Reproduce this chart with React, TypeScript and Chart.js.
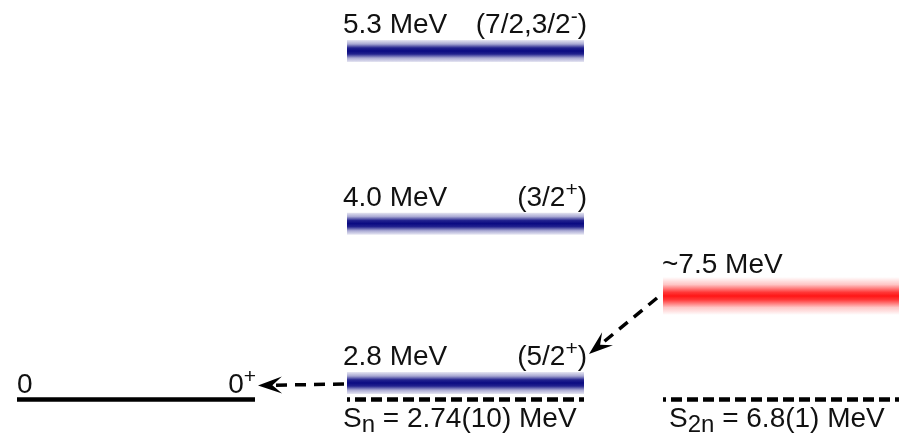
import React, { useEffect, useRef } from "react";
import { Chart, registerables } from "chart.js";

Chart.register(...registerables);

// Excited states of the nucleus (MeV) with their spin and parity
const levelEnergies = [5.3, 4.0, 2.8];
const levelSpins = ["7/2,3/2", "3/2", "5/2"];
const levelParities = ["-", "+", "+"];

// Ground state of the daughter
const groundEnergy = 0;
const groundSpin = "0";
const groundParity = "+";

// Broad two-neutron resonance (MeV)
const resonanceEnergy = 7.5;

// Separation energies
const snText = "2.74(10)";
const s2nText = "6.8(1)";

// ---- drawing layout -------------------------------------------------------
const W = 899;
const H = 436;
const FONT = '"Liberation Sans", Arial, Helvetica, sans-serif';
const TEXT = "#111111";
// Vertical axis is in MeV for the middle column; the bottom row is a broken-axis row
const Y_MIN = 2.401;
const Y_MAX = 5.684;
const BASE_ROW = 2.676; // ground state and thresholds
const RESONANCE_ROW = 3.455;
const GROUND_COL = [17, 255];
const LEVEL_COL = [347, 584];
const RES_COL = [663, 910];

type Seg = { t: string; k?: "sup" | "sub" };

function segFont(k?: string) {
  if (k === "sup") return `21px ${FONT}`;
  if (k === "sub") return `24px ${FONT}`;
  return `28px ${FONT}`;
}

function drawRich(ctx: CanvasRenderingContext2D, x: number, y: number, segs: Seg[], align: "left" | "right") {
  ctx.save();
  ctx.textAlign = "left";
  ctx.textBaseline = "alphabetic";
  ctx.fillStyle = TEXT;
  let total = 0;
  for (const s of segs) {
    ctx.font = segFont(s.k);
    total += ctx.measureText(s.t).width;
  }
  let cx = align === "right" ? x - total : x;
  for (const s of segs) {
    ctx.font = segFont(s.k);
    const dy = s.k === "sup" ? -10 : s.k === "sub" ? 5 : 0;
    ctx.fillText(s.t, cx, y + dy);
    cx += ctx.measureText(s.t).width;
  }
  ctx.restore();
}

function drawArrow(ctx: CanvasRenderingContext2D, x0: number, y0: number, x1: number, y1: number) {
  const dx = x1 - x0;
  const dy = y1 - y0;
  const len = Math.hypot(dx, dy);
  const ux = dx / len;
  const uy = dy / len;
  const nx = -uy;
  const ny = ux;
  const headL = 24;
  const headW = 8.5;
  ctx.save();
  ctx.strokeStyle = "#000";
  ctx.lineWidth = 3.5;
  ctx.setLineDash([11, 8]);
  ctx.beginPath();
  ctx.moveTo(x0, y0);
  ctx.lineTo(x1 - ux * 14, y1 - uy * 14);
  ctx.stroke();
  ctx.setLineDash([]);
  ctx.fillStyle = "#000";
  ctx.beginPath();
  ctx.moveTo(x1, y1);
  ctx.lineTo(x1 - ux * headL + nx * headW, y1 - uy * headL + ny * headW);
  ctx.lineTo(x1 - ux * headL * 0.6, y1 - uy * headL * 0.6);
  ctx.lineTo(x1 - ux * headL - nx * headW, y1 - uy * headL - ny * headW);
  ctx.closePath();
  ctx.fill();
  ctx.restore();
}

function bandGradient(chart: any, value: number, half: number, rgb: string, soft: boolean) {
  const y = chart.scales?.y;
  if (!y || !chart.chartArea) return `rgb(${rgb})`;
  const p = y.getPixelForValue(value);
  const g = chart.ctx.createLinearGradient(0, p - half, 0, p + half);
  if (soft) {
    g.addColorStop(0, `rgba(${rgb},0)`);
    g.addColorStop(0.2, `rgba(${rgb},0.25)`);
    g.addColorStop(0.4, `rgba(${rgb},0.85)`);
    g.addColorStop(0.5, `rgba(${rgb},1)`);
    g.addColorStop(0.6, `rgba(${rgb},0.85)`);
    g.addColorStop(0.8, `rgba(${rgb},0.25)`);
    g.addColorStop(1, `rgba(${rgb},0)`);
  } else {
    g.addColorStop(0, `rgba(${rgb},0.1)`);
    g.addColorStop(0.18, `rgba(${rgb},0.35)`);
    g.addColorStop(0.36, `rgba(${rgb},0.9)`);
    g.addColorStop(0.5, `rgba(${rgb},1)`);
    g.addColorStop(0.64, `rgba(${rgb},0.9)`);
    g.addColorStop(0.82, `rgba(${rgb},0.35)`);
    g.addColorStop(1, `rgba(${rgb},0.1)`);
  }
  return g;
}

const labelsPlugin = {
  id: "levelLabels",
  afterDatasetsDraw(chart: any) {
    const { ctx } = chart;
    const xs = chart.scales.x;
    const ys = chart.scales.y;
    const lx0 = xs.getPixelForValue(LEVEL_COL[0]);
    const lx1 = xs.getPixelForValue(LEVEL_COL[1]);

    levelEnergies.forEach((e, i) => {
      const py = ys.getPixelForValue(e);
      drawRich(ctx, lx0 - 4, py - 18, [{ t: `${e.toFixed(1)} MeV` }], "left");
      drawRich(
        ctx,
        lx1 + 3,
        py - 18,
        [{ t: `(${levelSpins[i]}` }, { t: levelParities[i], k: "sup" }, { t: ")" }],
        "right"
      );
    });

    const base = ys.getPixelForValue(BASE_ROW);
    const gx0 = xs.getPixelForValue(GROUND_COL[0]);
    const gx1 = xs.getPixelForValue(GROUND_COL[1]);
    drawRich(ctx, gx0, base - 6, [{ t: `${groundEnergy}` }], "left");
    drawRich(ctx, gx1 + 1, base - 6, [{ t: groundSpin }, { t: groundParity, k: "sup" }], "right");

    const rx0 = xs.getPixelForValue(RES_COL[0]);
    const ry = ys.getPixelForValue(RESONANCE_ROW);
    drawRich(ctx, rx0 - 1, ry - 23, [{ t: `~${resonanceEnergy.toFixed(1)} MeV` }], "left");

    drawRich(ctx, lx0 - 4, base + 28, [{ t: "S" }, { t: "n", k: "sub" }, { t: ` = ${snText} MeV` }], "left");
    drawRich(ctx, rx0 + 6, base + 28, [{ t: "S" }, { t: "2n", k: "sub" }, { t: ` = ${s2nText} MeV` }], "left");

    // decay arrows: resonance -> 5/2+ state -> ground state
    const lowest = ys.getPixelForValue(levelEnergies[levelEnergies.length - 1]);
    drawArrow(ctx, rx0 - 6, ry + 2, lx1 + 5, lowest - 29);
    drawArrow(ctx, lx0 - 3, lowest + 1, gx1 + 3, base - 14);
  },
};

export default function App() {
  const ref = useRef<HTMLCanvasElement | null>(null);

  useEffect(() => {
    document.body.style.margin = "0";
    const canvas = ref.current;
    if (!canvas) return;

    const levelSets = levelEnergies.map((e) => ({
      data: [
        { x: LEVEL_COL[0], y: e },
        { x: LEVEL_COL[1], y: e },
      ],
      borderWidth: 22,
      borderColor: (c: any) => bandGradient(c.chart, e, 11, "10,10,130", false),
      borderCapStyle: "butt" as const,
      pointRadius: 0,
    }));

    const datasets: any[] = [
      ...levelSets,
      {
        data: [
          { x: RES_COL[0], y: RESONANCE_ROW },
          { x: RES_COL[1], y: RESONANCE_ROW },
        ],
        borderWidth: 38,
        borderColor: (c: any) => bandGradient(c.chart, RESONANCE_ROW, 19, "255,22,22", true),
        borderCapStyle: "butt",
        pointRadius: 0,
      },
      {
        data: [
          { x: GROUND_COL[0], y: BASE_ROW },
          { x: GROUND_COL[1], y: BASE_ROW },
        ],
        borderWidth: 4.5,
        borderColor: "#000",
        borderCapStyle: "butt",
        pointRadius: 0,
      },
      {
        data: [
          { x: LEVEL_COL[0], y: BASE_ROW },
          { x: LEVEL_COL[1], y: BASE_ROW },
        ],
        borderWidth: 4.5,
        borderColor: "#000",
        borderDash: [11, 5],
        borderDashOffset: 8,
        borderCapStyle: "butt",
        pointRadius: 0,
      },
      {
        data: [
          { x: RES_COL[0], y: BASE_ROW },
          { x: RES_COL[1], y: BASE_ROW },
        ],
        borderWidth: 4.5,
        borderColor: "#000",
        borderDash: [11, 5],
        borderDashOffset: 8,
        borderCapStyle: "butt",
        pointRadius: 0,
      },
    ];

    const chart = new Chart(canvas, {
      type: "line",
      data: { datasets },
      options: {
        animation: false,
        responsive: false,
        layout: { padding: 0 },
        events: [],
        scales: {
          x: { type: "linear", min: 0, max: W, display: false },
          y: { type: "linear", min: Y_MIN, max: Y_MAX, display: false },
        },
        plugins: {
          legend: { display: false },
          tooltip: { enabled: false },
        },
      },
      plugins: [labelsPlugin],
    });

    return () => chart.destroy();
  }, []);

  return (
    <div style={{ position: "absolute", left: 0, top: 0, width: W, height: H, background: "#fff" }}>
      <canvas ref={ref} width={W} height={H} style={{ display: "block" }} />
    </div>
  );
}
